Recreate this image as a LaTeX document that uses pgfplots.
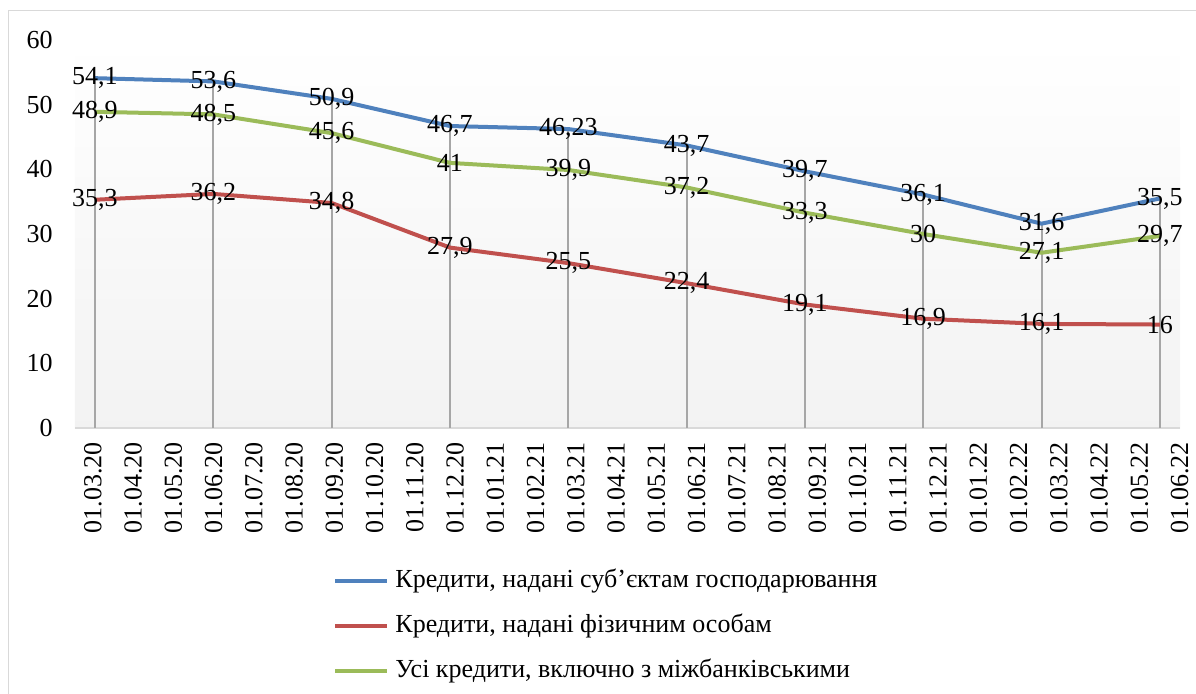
\documentclass[border=0pt]{standalone}
\usepackage{fontspec}
\setmainfont{Liberation Serif}
\usepackage{pgfplots}
\pgfplotsset{compat=1.18}
\definecolor{cblue}{HTML}{4F81BD}
\definecolor{cred}{HTML}{C0504D}
\definecolor{cgreen}{HTML}{9BBB59}
\definecolor{dropc}{HTML}{A6A6A6}
\definecolor{axc}{HTML}{D9D9D9}
\begin{document}
\fontsize{13pt}{15pt}\selectfont
\begin{tikzpicture}
\useasboundingbox (0,0) rectangle (598pt,346.5pt);
\draw[axc, line width=0.9pt] (4.25pt,-20pt) -- (4.25pt,341.25pt) -- (620pt,341.25pt);
\begin{axis}[
  at={(37.5pt,132.5pt)}, anchor=south west,
  width=552.5pt, height=194pt, scale only axis,
  xmin=-0.507, xmax=27.51, ymin=0, ymax=60,
  clip=false,
  axis x line*=bottom, axis y line*=left,
  x axis line style={axc, line width=0.9pt},
  y axis line style={draw=none},
  axis background/.style={shade, top color=white, bottom color=black!5},
  major tick length=0pt,
  ytick={0,10,...,60},
  /pgf/number format/assume math mode=true,
  yticklabel style={font=\fontsize{13pt}{15pt}\selectfont, inner sep=0pt, anchor=east, xshift=-11pt},
  xtick={-0.05,0.9704,1.9908,3.0112,4.0316,5.052,6.0724,7.0928,8.1132,9.1336,10.154,11.1744,12.1948,13.2152,14.2356,15.256,16.2764,17.2968,18.3172,19.3376,20.358,21.3784,22.3988,23.4192,24.4396,25.46,26.4804,27.5008},
  xticklabels={01.03.20,01.04.20,01.05.20,01.06.20,01.07.20,01.08.20,01.09.20,01.10.20,01.11.20,01.12.20,01.01.21,01.02.21,01.03.21,01.04.21,01.05.21,01.06.21,01.07.21,01.08.21,01.09.21,01.10.21,01.11.21,01.12.21,01.01.22,01.02.22,01.03.22,01.04.22,01.05.22,01.06.22},
  xticklabel style={font=\fontsize{13pt}{15pt}\selectfont, inner sep=0pt, yshift=-7pt, rotate=90, anchor=east},
  legend style={at={(0.2335,-0.3634)}, anchor=north west, draw=none, fill=none,
    inner sep=0pt, row sep=10.5pt, column sep=3pt,
    font=\fontsize{13pt}{15pt}\selectfont,
    nodes={inner sep=0pt, text height=9pt, text depth=3pt}},
  legend cell align=left,
  legend image code/.code={\draw[#1] (0pt,0pt) -- (26pt,0pt);},
  every node near coord/.append style={font=\fontsize{13pt}{15pt}\selectfont, anchor=center, inner sep=0pt, text=black},
]
\addplot[ycomb, dropc, line width=1pt, forget plot] coordinates {
(0,54.1) (3,53.6) (6,50.9) (9,46.7) (12,46.23) (15,43.7) (18,39.7) (21,36.1) (24,31.6) (27,35.5)};

\addplot[cblue, line width=2pt, line join=round, forget plot,
  nodes near coords, point meta=explicit symbolic] coordinates {
(0,54.1) [54,1] (3,53.6) [53,6] (6,50.9) [50,9] (9,46.7) [46,7] (12,46.23) [46,23]
(15,43.7) [43,7] (18,39.7) [39,7] (21,36.1) [36,1] (24,31.6) [31,6] (27,35.5) [35,5]};

\addplot[cred, line width=2pt, line join=round, forget plot,
  nodes near coords, point meta=explicit symbolic] coordinates {
(0,35.3) [35,3] (3,36.2) [36,2] (6,34.8) [34,8] (9,27.9) [27,9] (12,25.5) [25,5]
(15,22.4) [22,4] (18,19.1) [19,1] (21,16.9) [16,9] (24,16.1) [16,1] (27,16) [16]};

\addplot[cgreen, line width=2pt, line join=round, forget plot,
  nodes near coords, point meta=explicit symbolic] coordinates {
(0,48.9) [48,9] (3,48.5) [48,5] (6,45.6) [45,6] (9,41) [41] (12,39.9) [39,9]
(15,37.2) [37,2] (18,33.3) [33,3] (21,30) [30] (24,27.1) [27,1] (27,29.7) [29,7]};

\addlegendimage{cblue, line width=2pt}
\addlegendentry{Кредити, надані суб’єктам господарювання}
\addlegendimage{cred, line width=2pt}
\addlegendentry{Кредити, надані фізичним особам}
\addlegendimage{cgreen, line width=2pt}
\addlegendentry{Усі кредити, включно з міжбанківськими}
\end{axis}
\end{tikzpicture}
\end{document}
